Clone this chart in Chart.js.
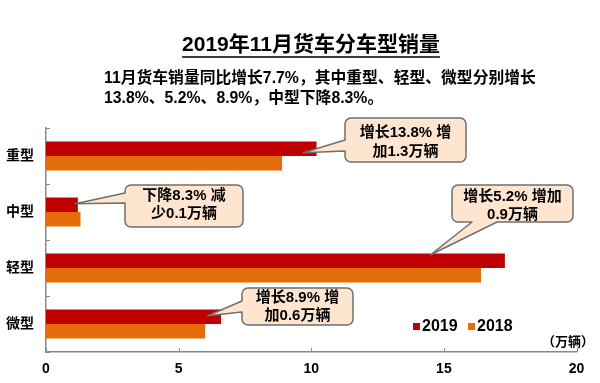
<!DOCTYPE html>
<html>
<head>
<meta charset="utf-8">
<script src="https://cdn.jsdelivr.net/npm/chart.js@4/dist/chart.umd.min.js"></script>
<style>
html,body{margin:0;padding:0;background:#fff;}
#wrap{width:600px;height:383px;position:relative;}
</style>
</head>
<body>
<div id="wrap"><canvas id="c" width="600" height="383"></canvas></div>
<script>
const categories = ['重型', '中型', '轻型', '微型'];
const seriesLabels = ['2019', '2018'];
const series2019 = [10.2, 1.2, 17.3, 6.6];
const series2018 = [8.9, 1.3, 16.4, 6.0];
const xTicks = [0, 5, 10, 15, 20];
const titleText = '2019年11月货车分车型销量';
const subtitleLines = ['11月货车销量同比增长7.7%，其中重型、轻型、微型分别增长', '13.8%、5.2%、8.9%，中型下降8.3%。'];
const unitText = '（万辆）';
const calloutTexts = [
  ['增长13.8% 增', '加1.3万辆'],
  ['下降8.3% 减', '少0.1万辆'],
  ['增长5.2% 增加', '0.9万辆'],
  ['增长8.9% 增', '加0.6万辆']
];
const calloutTipValues = [9.7, 1.1, 14.5, 6.1];

const colors = ['#C00000', '#E46C0A'];
const FONT = '"Liberation Sans", Arial, "Noto Sans CJK SC", sans-serif';

// callout layout (box geometry, pointer side)
const calloutLayout = [
  {x: 345, y: 118, w: 121, h: 44, side: 'left', b1: 140, b2: 151, dy: 4, ly: [133, 152]},
  {x: 125, y: 185, w: 118, h: 42, side: 'left', b1: 193, b2: 203, dy: -1, ly: [196, 214]},
  {x: 452, y: 185, w: 121, h: 37, side: 'bottom', b1: 472, b2: 497, dy: -6, ly: [197, 215]},
  {x: 242, y: 288, w: 111, h: 37, side: 'left', b1: 301, b2: 312, dy: -1, ly: [298, 316]}
];

function calloutPath(ctx, L, tx, ty) {
  const r = 6, x = L.x, y = L.y, w = L.w, h = L.h;
  ctx.beginPath();
  ctx.moveTo(x + r, y);
  ctx.lineTo(x + w - r, y);
  ctx.arcTo(x + w, y, x + w, y + r, r);
  ctx.lineTo(x + w, y + h - r);
  ctx.arcTo(x + w, y + h, x + w - r, y + h, r);
  if (L.side === 'bottom') {
    ctx.lineTo(L.b2, y + h);
    ctx.lineTo(tx, ty);
    ctx.lineTo(L.b1, y + h);
  }
  ctx.lineTo(x + r, y + h);
  ctx.arcTo(x, y + h, x, y + h - r, r);
  if (L.side === 'left') {
    ctx.lineTo(x, L.b2);
    ctx.lineTo(tx, ty);
    ctx.lineTo(x, L.b1);
  }
  ctx.lineTo(x, y + r);
  ctx.arcTo(x, y, x + r, y, r);
  ctx.closePath();
}

const decor = {
  id: 'decor',
  afterDraw(chart) {
    const ctx = chart.ctx;
    const xs = chart.scales.x, ys = chart.scales.y;
    ctx.save();
    // axis ticks (inside)
    ctx.strokeStyle = '#8a8a8a';
    ctx.lineWidth = 1;
    const n = categories.length;
    for (let i = 0; i <= n; i++) {
      const yy = Math.round(ys.top + i * (ys.bottom - ys.top) / n) + 0.5;
      ctx.beginPath(); ctx.moveTo(xs.left, yy); ctx.lineTo(xs.left + 4, yy); ctx.stroke();
    }
    xTicks.forEach(v => {
      const xx = Math.round(xs.getPixelForValue(v)) + 0.5;
      ctx.beginPath(); ctx.moveTo(xx, ys.bottom); ctx.lineTo(xx, ys.bottom - 4); ctx.stroke();
    });

    // title
    ctx.fillStyle = '#000';
    ctx.font = 'bold 21px ' + FONT;
    ctx.textAlign = 'center';
    ctx.textBaseline = 'middle';
    const tcx = 311, tcy = 45;
    ctx.fillText(titleText, tcx, tcy);
    const tw = ctx.measureText(titleText).width;
    ctx.strokeStyle = '#000';
    ctx.lineWidth = 1.5;
    ctx.beginPath(); ctx.moveTo(tcx - tw / 2, 57); ctx.lineTo(tcx + tw / 2, 57); ctx.stroke();

    // subtitle
    ctx.font = 'bold 15.8px ' + FONT;
    ctx.textAlign = 'left';
    ctx.fillText(subtitleLines[0], 104, 79);
    ctx.fillText(subtitleLines[1], 104, 99);

    // callouts
    const meta0 = chart.getDatasetMeta(0);
    calloutLayout.forEach((L, i) => {
      const bar = meta0.data[i];
      const tx = xs.getPixelForValue(calloutTipValues[i]);
      const ty = bar.y + L.dy;
      calloutPath(ctx, L, tx, ty);
      ctx.fillStyle = '#FDE5CF';
      ctx.fill();
      ctx.strokeStyle = '#6f6f6f';
      ctx.lineWidth = 1.5;
      ctx.lineJoin = 'round';
      ctx.stroke();
      ctx.fillStyle = '#000';
      ctx.font = 'bold 15px ' + FONT;
      ctx.textAlign = 'center';
      ctx.textBaseline = 'middle';
      calloutTexts[i].forEach((t, j) => ctx.fillText(t, L.x + L.w / 2, L.ly[j]));
    });

    // legend
    ctx.font = 'bold 16px ' + FONT;
    ctx.textAlign = 'left';
    ctx.textBaseline = 'middle';
    const legX = [413, 468];
    seriesLabels.forEach((lab, i) => {
      ctx.fillStyle = colors[i];
      ctx.fillRect(legX[i], 323, 7, 7);
      ctx.fillStyle = '#000';
      ctx.fillText(lab, legX[i] + 9, 327);
    });

    // unit
    ctx.font = 'bold 13px ' + FONT;
    ctx.textAlign = 'center';
    ctx.fillText(unitText, 568, 342);
    ctx.restore();
  }
};

const bgPlugin = {
  id: 'bg',
  beforeDraw(chart) {
    const ctx = chart.ctx;
    ctx.save();
    ctx.fillStyle = '#fff';
    ctx.fillRect(0, 0, chart.width, chart.height);
    ctx.restore();
  }
};

new Chart(document.getElementById('c'), {
  type: 'bar',
  data: {
    labels: categories,
    datasets: [
      {label: seriesLabels[0], data: series2019, backgroundColor: colors[0], borderWidth: 0},
      {label: seriesLabels[1], data: series2018, backgroundColor: colors[1], borderWidth: 0}
    ]
  },
  options: {
    indexAxis: 'y',
    responsive: false,
    devicePixelRatio: 1,
    animation: false,
    layout: {padding: {top: 128, right: 23.5, left: 0, bottom: 0}},
    datasets: {bar: {categoryPercentage: 0.52, barPercentage: 1.0}},
    plugins: {legend: {display: false}, tooltip: {enabled: false}, title: {display: false}},
    scales: {
      x: {
        min: 0, max: 20,
        afterBuildTicks(scale) { scale.ticks = xTicks.map(v => ({value: v})); },
        afterFit(scale) { scale.height = 31; },
        grid: {display: false, drawTicks: false},
        border: {display: true, color: '#8a8a8a', width: 1.5},
        ticks: {color: '#000', padding: 9, font: {family: FONT, size: 14, weight: 'bold'}, maxRotation: 0}
      },
      y: {
        afterFit(scale) { scale.width = 46; },
        grid: {display: false, drawTicks: false},
        border: {display: true, color: '#8a8a8a', width: 1.5},
        ticks: {color: '#000', padding: 12, font: {family: FONT, size: 14, weight: 'bold'}}
      }
    }
  },
  plugins: [bgPlugin, decor]
});
</script>
</body>
</html>
